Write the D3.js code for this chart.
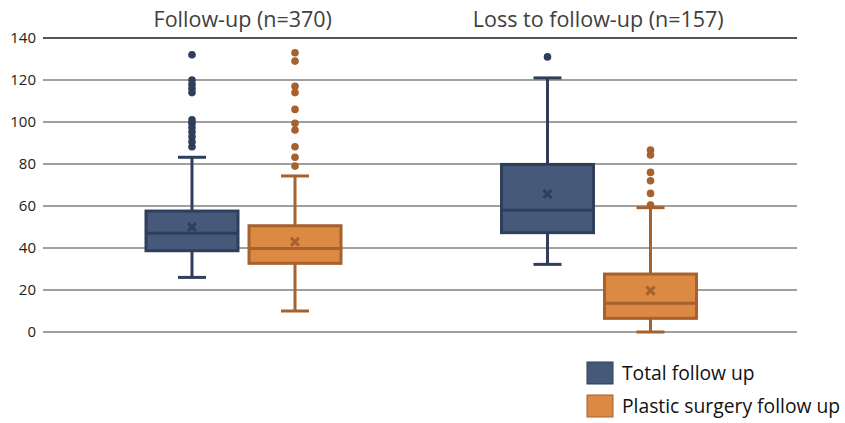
<!DOCTYPE html>
<html>
<head>
<meta charset="utf-8">
<script src="https://cdn.jsdelivr.net/npm/d3@7"></script>
<style>
  body { margin: 0; background: #fff; }
  svg { display: block; font-family: "Open Sans", "Noto Sans", sans-serif; }
</style>
</head>
<body>
<svg id="chart" width="845" height="423"></svg>
<script>
// groups and series
const groups = ["Follow-up (n=370)", "Loss to follow-up (n=157)"];
const series = ["Total follow up", "Plastic surgery follow up"];
const yTicks = [0, 20, 40, 60, 80, 100, 120, 140];

// box stats: [whiskerLow, q1, median, q3, whiskerHigh], mean
const totalBoxes = [[26, 38.7, 47, 57.6, 83.2], [32.2, 47.3, 58, 79.8, 121]];
const plasticBoxes = [[10, 32.7, 39.8, 50.6, 74.3], [0, 6.5, 13.7, 27.6, 59.2]];
const totalMeans = [50, 65.7];
const plasticMeans = [43, 19.7];
const totalOutliers = [
  [132, 120, 118, 116, 114, 101, 99.4, 97.4, 95.2, 93, 90.6, 88.2],
  [131]
];
const plasticOutliers = [
  [133, 129, 117, 114, 106, 99.4, 96.2, 88.2, 83.2, 79],
  [86.7, 84.3, 76, 72, 66, 60.5]
];

const fills = ["#46597b", "#dc8943"];
const strokes = ["#2f3e5b", "#a6612c"];

const svg = d3.select("#chart");
const left = 43, right = 797;

const y = d3.scaleLinear().domain([0, 140]).range([332, 38]);
const x0 = d3.scaleBand().domain(groups).range([65, 776]);
const x1 = d3.scaleBand().domain(series).range([79.5, 277.5]).paddingInner(0.078);

// grid lines
svg.append("g")
  .selectAll("line")
  .data(yTicks)
  .join("line")
  .attr("x1", left).attr("x2", right)
  .attr("y1", d => y(d)).attr("y2", d => y(d))
  .attr("stroke", d => d === 140 ? "#555" : "#404040")
  .attr("stroke-width", d => d === 140 ? 2 : 1);

// y axis labels
svg.append("g")
  .selectAll("text")
  .data(yTicks)
  .join("text")
  .attr("x", 36)
  .attr("y", d => y(d))
  .attr("dy", "0.35em")
  .attr("text-anchor", "end")
  .attr("font-size", 15)
  .attr("fill", "#222")
  .text(d => d);

// group titles
svg.append("g")
  .selectAll("text")
  .data(groups)
  .join("text")
  .attr("x", d => x0(d) + x0.bandwidth() / 2)
  .attr("y", 27)
  .attr("text-anchor", "middle")
  .attr("font-size", 21.5)
  .attr("fill", "#404040")
  .text(d => d);

const seriesData = [
  { name: series[0], boxes: totalBoxes, means: totalMeans, outliers: totalOutliers },
  { name: series[1], boxes: plasticBoxes, means: plasticMeans, outliers: plasticOutliers }
];

const bw = x1.bandwidth();
const cap = 28;

seriesData.forEach((s, si) => {
  groups.forEach((g, gi) => {
    const [lo, q1, med, q3, hi] = s.boxes[gi];
    const bx = x0(g) + x1(s.name);
    const cx = bx + bw / 2;
    const gEl = svg.append("g");

    // whiskers
    gEl.append("line")
      .attr("x1", cx).attr("x2", cx)
      .attr("y1", y(hi)).attr("y2", y(lo))
      .attr("stroke", strokes[si]).attr("stroke-width", 3);
    [lo, hi].forEach(v => {
      gEl.append("line")
        .attr("x1", cx - cap / 2).attr("x2", cx + cap / 2)
        .attr("y1", y(v)).attr("y2", y(v))
        .attr("stroke", strokes[si]).attr("stroke-width", 3);
    });

    // box
    gEl.append("rect")
      .attr("x", bx + 1.5).attr("width", bw - 3)
      .attr("y", y(q3)).attr("height", y(q1) - y(q3))
      .attr("fill", fills[si])
      .attr("stroke", strokes[si]).attr("stroke-width", 3);

    // median
    gEl.append("line")
      .attr("x1", bx + 1.5).attr("x2", bx + bw - 1.5)
      .attr("y1", y(med)).attr("y2", y(med))
      .attr("stroke", strokes[si]).attr("stroke-width", 3);

    // mean marker
    const m = y(s.means[gi]);
    gEl.append("path")
      .attr("d", `M${cx - 4},${m - 4}L${cx + 4},${m + 4}M${cx + 4},${m - 4}L${cx - 4},${m + 4}`)
      .attr("stroke", strokes[si]).attr("stroke-width", 3);

    // outliers
    gEl.selectAll("circle")
      .data(s.outliers[gi])
      .join("circle")
      .attr("cx", cx).attr("cy", d => y(d))
      .attr("r", 3.8)
      .attr("fill", strokes[si]);
  });
});

// legend
const legend = svg.append("g");
series.forEach((name, i) => {
  const ly = 362 + i * 33;
  legend.append("rect")
    .attr("x", 587).attr("y", ly)
    .attr("width", 26).attr("height", 22)
    .attr("fill", fills[i])
    .attr("stroke", strokes[i]).attr("stroke-width", 1);
  legend.append("text")
    .attr("x", 622).attr("y", ly + 11)
    .attr("dy", "0.35em")
    .attr("font-size", 19.3)
    .attr("fill", "#111")
    .text(name);
});
</script>
</body>
</html>
